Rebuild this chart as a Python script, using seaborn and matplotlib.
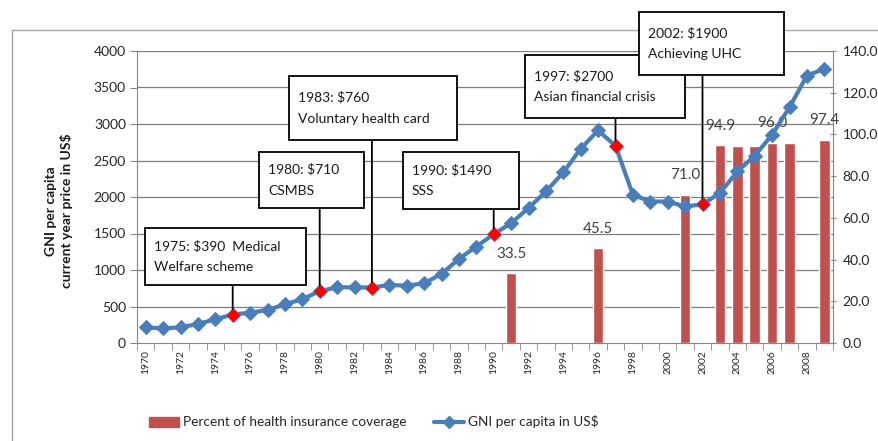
import matplotlib
matplotlib.use("Agg")
import matplotlib.pyplot as plt
from matplotlib.patches import Rectangle, Patch
from matplotlib.lines import Line2D
from matplotlib.ticker import FixedLocator
import seaborn as sns
import pandas as pd

# ---------------- data ----------------
years = list(range(1970, 2010))
gni = [215, 200, 215, 260, 325, 390, 415, 452, 530, 600,
       710, 763, 763, 760, 795, 786, 818, 946, 1152, 1321,
       1490, 1642, 1848, 2076, 2337, 2661, 2912, 2700, 2030, 1938,
       1938, 1870, 1900, 2053, 2350, 2565, 2853, 3228, 3663, 3755]

cov_years = [1991, 1996, 2001, 2003, 2004, 2005, 2006, 2007, 2009]
cov_values = [33.5, 45.5, 71.0, 94.9, 94.3, 94.6, 96.0, 96.1, 97.4]
cov_label_years = [1991, 1996, 2001, 2003, 2006, 2009]

event_years = [1975, 1980, 1983, 1990, 1997, 2002]
event_texts = ["1975: $390  Medical\nWelfare scheme",
               "1980: $710\nCSMBS",
               "1983: $760\nVoluntary health card",
               "1990: $1490\nSSS",
               "1997: $2700\nAsian financial crisis",
               "2002: $1900\nAchieving UHC"]

left_ticks = [0, 500, 1000, 1500, 2000, 2500, 3000, 3500, 4000]
right_ticks = [0, 20, 40, 60, 80, 100, 120, 140]

bar_label = "Percent of health insurance coverage"
line_label = "GNI per capita in US$"
ylabel_text = "GNI per capita\ncurrent year price in US$"

# ---------------- style ----------------
sns.set_style("white")
plt.rcParams["font.family"] = ["Lato", "DejaVu Sans"]

BAR_C = "#C0504D"
LINE_C = "#4A7EBB"
AX_C = "#868686"
GRID_C = "#7f7f7f"

W, H = 879, 441
fig = plt.figure(figsize=(W / 100, H / 100), dpi=100)
L, R, T, B = 137, 833, 51, 343
ax_bar = fig.add_axes([L / W, 1 - B / H, (R - L) / W, (B - T) / H])
ax = ax_bar.twinx()

df_line = pd.DataFrame({"year": years, "gni": gni})
df_bar = pd.DataFrame({"year": cov_years, "cov": cov_values})
df_ev = df_line[df_line["year"].isin(event_years)]

# bars (right scale)
sns.barplot(data=df_bar, x="year", y="cov", native_scale=True, width=0.62,
            color=BAR_C, saturation=1, ax=ax_bar, zorder=2)
ax_bar.set_ylim(0, 140)
ax_bar.set_xlim(1969.5, 2009.5)
for v in left_ticks[1:]:
    ax_bar.axhline(v * 140 / 4000, color=GRID_C, lw=0.9, zorder=0)

for yr, v in zip(cov_years, cov_values):
    if yr in cov_label_years:
        ax_bar.annotate(f"{v:.1f}", xy=(yr, v), xytext=(0, 14),
                        textcoords="offset points", ha="center", va="center",
                        fontsize=11, color="#404040", zorder=3)

# line (left scale)
sns.lineplot(data=df_line, x="year", y="gni", ax=ax, color=LINE_C, lw=3,
             marker="D", markersize=7.5, markeredgecolor=LINE_C, zorder=5)
sns.scatterplot(data=df_ev, x="year", y="gni", ax=ax, color="#FF0000",
                marker="D", s=40, edgecolor="#FF0000", zorder=7)
ax.set_ylim(0, 4000)
ax.set_xlim(1969.5, 2009.5)

# annotation boxes (pixel layout)
boxes = [(145, 228, 306, 285), (259, 152, 364, 208), (289, 76, 457, 140),
         (403, 152, 519, 209), (525, 55, 685, 118), (639, 12, 784, 75)]
ev_vals = dict(zip(years, gni))
for yr, txt, (x0, y0, x1, y1) in zip(event_years, event_texts, boxes):
    ax0 = (x0 - L) / (R - L)
    ax1 = (x1 - L) / (R - L)
    ay0 = (B - y1) / (B - T)
    ay1 = (B - y0) / (B - T)
    ax.add_patch(Rectangle((ax0, ay0), ax1 - ax0, ay1 - ay0, transform=ax.transAxes,
                           facecolor="white", edgecolor="black", lw=1.3,
                           clip_on=False, zorder=8))
    ax.text(ax0 + 9 / (R - L), (ay0 + ay1) / 2, txt, transform=ax.transAxes,
            ha="left", va="center", fontsize=10, linespacing=1.9,
            color="#1a1a1a", zorder=9, clip_on=False)
    ax.annotate("", xy=(yr, ev_vals[yr]), xycoords="data",
                xytext=(yr, ay0), textcoords=("data", "axes fraction"),
                arrowprops=dict(arrowstyle="-", color="black", lw=1.3,
                                shrinkA=0, shrinkB=0), zorder=6)

# axes styling
ax_bar.yaxis.tick_right()
ax.yaxis.tick_left()
ax.yaxis.set_label_position("left")
ax.set_xlabel("")
ax.set_ylabel("")
ax_bar.set_xlabel("")
ax_bar.set_ylabel("")

for a in (ax, ax_bar):
    a.spines["top"].set_visible(False)
ax.spines["right"].set_visible(False)
ax.spines["bottom"].set_visible(False)
ax_bar.spines["left"].set_visible(False)
ax.spines["left"].set_color(AX_C)
ax_bar.spines["right"].set_color(AX_C)
ax_bar.spines["bottom"].set_color(AX_C)

ax.set_yticks(left_ticks)
ax.set_yticklabels([str(t) for t in left_ticks])
ax.tick_params(axis="y", labelsize=10, length=5, color=AX_C, labelcolor="#262626", pad=3)
ax_bar.set_yticks(right_ticks)
ax_bar.set_yticklabels([f"{t:.1f}" for t in right_ticks])
ax_bar.tick_params(axis="y", labelsize=10, length=4, color=AX_C, labelcolor="#262626",
                   direction="inout", pad=5)

major = [y for y in years if y % 2 == 0]
ax_bar.xaxis.set_major_locator(FixedLocator(major))
ax_bar.set_xticklabels([str(y) for y in major], rotation=90, fontsize=7.5, color="#262626")
ax_bar.xaxis.set_minor_locator(FixedLocator([y - 0.5 for y in years] + [years[-1] + 0.5]))
ax_bar.tick_params(axis="x", which="major", length=0, pad=5)
ax_bar.tick_params(axis="x", which="minor", length=5, color=AX_C, bottom=True)

fig.text(59 / W, 1 - 211 / H, ylabel_text, rotation=90, ha="center", va="center",
         fontsize=10, fontweight="bold", multialignment="center", color="#1a1a1a")

handles = [Patch(facecolor=BAR_C, edgecolor=BAR_C),
           Line2D([0], [0], color=LINE_C, lw=3, marker="D", markersize=6)]
fig.legend(handles, [bar_label, line_label], loc="center", ncol=2, frameon=False,
           bbox_to_anchor=(374 / W, 1 - 422 / H), fontsize=9.8, handlelength=2.2,
           handletextpad=0.3, columnspacing=2.0)

fig.patches.append(Rectangle((12 / W, -0.1), 2, 1 - 30 / H + 0.1, transform=fig.transFigure,
                             fill=False, edgecolor="#a6a6a6", lw=1, zorder=-1))

fig.savefig("out.png", dpi=100)
